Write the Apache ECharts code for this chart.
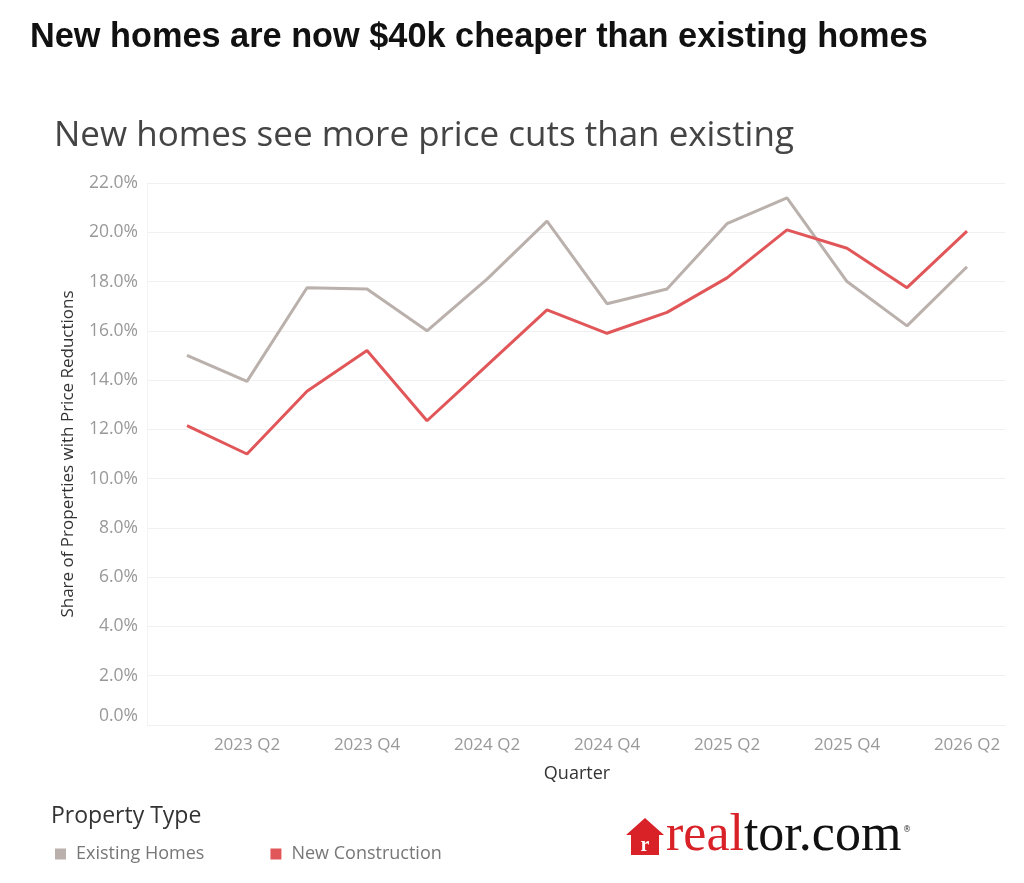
<!DOCTYPE html>
<html>
<head>
<meta charset="utf-8">
<title>New homes vs existing homes price cuts</title>
<script src="https://cdn.jsdelivr.net/npm/echarts@6/dist/echarts.min.js"></script>
<style>
  html, body { margin: 0; padding: 0; background: #fff; }
  #main { width: 1024px; height: 883px; }
</style>
</head>
<body>
<div id="main"></div>
<script>
const quarters = [
  "2023 Q1", "2023 Q2", "2023 Q3", "2023 Q4",
  "2024 Q1", "2024 Q2", "2024 Q3", "2024 Q4",
  "2025 Q1", "2025 Q2", "2025 Q3", "2025 Q4",
  "2026 Q1", "2026 Q2",
];
const existingHomes = [15.0, 13.95, 17.75, 17.7, 16.0, 18.1, 20.45, 17.1, 17.7, 20.35, 21.4, 18.0, 16.2, 18.6];
const newConstruction = [12.15, 11.0, 13.55, 15.2, 12.35, 14.6, 16.85, 15.9, 16.75, 18.15, 20.1, 19.35, 17.75, 20.05];
const yTicks = [0, 2, 4, 6, 8, 10, 12, 14, 16, 18, 20, 22];

const existingName = "Existing Homes";
const newName = "New Construction";
const grayColor = "#bab0ac";
const redColor = "#e15759";
const font = "Open Sans";

const chart = echarts.init(document.getElementById("main"));

const options = {
  animation: false,
  textStyle: { fontFamily: font },
  grid: [
    // data grid: category axis with half-step padding
    { left: 157, right: 27, top: 183, bottom: 158 },
    // background grid: gridlines and y labels across the full plot width
    { left: 147, right: 19, top: 183, bottom: 158 },
  ],
  xAxis: [
    {
      type: "category",
      gridIndex: 0,
      data: quarters,
      boundaryGap: true,
      axisLine: { show: false },
      axisTick: { show: false },
      axisLabel: {
        interval: (index) => index % 2 === 1,
        color: "#999",
        fontSize: 17,
        margin: 12,
      },
      name: "Quarter",
      nameLocation: "middle",
      nameGap: 40,
      nameTextStyle: { color: "#333", fontSize: 18 },
    },
    {
      type: "value",
      gridIndex: 1,
      min: 0,
      max: 1,
      axisLine: { show: true, lineStyle: { color: "#f0f0f0" } },
      axisTick: { show: false },
      axisLabel: { show: false },
      splitLine: { show: false },
    },
  ],
  yAxis: [
    {
      type: "value",
      gridIndex: 0,
      min: yTicks[0],
      max: yTicks[yTicks.length - 1],
      interval: 2,
      show: false,
    },
    {
      type: "value",
      gridIndex: 1,
      min: yTicks[0],
      max: yTicks[yTicks.length - 1],
      interval: 2,
      axisLine: { show: true, lineStyle: { color: "#f3f3f3" } },
      axisTick: { show: false },
      axisLabel: {
        formatter: (v) => v.toFixed(1) + "%",
        color: "#999",
        fontSize: 17.5,
        margin: 9,
        verticalAlignMinLabel: "bottom",
      },
      splitLine: { lineStyle: { color: "#f0f0f0", width: 1 } },
      name: "Share of Properties with Price Reductions",
      nameLocation: "middle",
      nameGap: 70,
      nameTextStyle: { color: "#333", fontSize: 17 },
    },
  ],
  legend: {
    data: [existingName, newName],
    left: 50,
    top: 840,
    icon: "rect",
    itemWidth: 11,
    itemHeight: 11,
    itemGap: 66,
    textStyle: { color: "#777", fontSize: 18, fontFamily: font, padding: [0, 0, 0, 5] },
  },
  series: [
    {
      name: existingName,
      type: "line",
      xAxisIndex: 0,
      yAxisIndex: 0,
      data: existingHomes,
      symbol: "none",
      color: grayColor,
      lineStyle: { width: 3, color: grayColor },
    },
    {
      name: newName,
      type: "line",
      xAxisIndex: 0,
      yAxisIndex: 0,
      data: newConstruction,
      symbol: "none",
      color: redColor,
      lineStyle: { width: 3, color: redColor },
    },
  ],
  graphic: [
    {
      type: "text",
      left: 30,
      top: 21,
      style: {
        text: "New homes are now $40k cheaper than existing homes",
        font: "bold 34.3px 'Liberation Sans', Arial, sans-serif",
        fill: "#111",
      },
    },
    {
      type: "text",
      left: 54,
      top: 119,
      style: {
        text: "New homes see more price cuts than existing",
        font: "35px 'Open Sans', sans-serif",
        fill: "#444",
      },
    },
    {
      type: "text",
      left: 51,
      top: 805,
      style: {
        text: "Property Type",
        font: "23px 'Open Sans', sans-serif",
        fill: "#333",
      },
    },
    // realtor.com logo
    {
      type: "polygon",
      shape: {
        points: [[645, 818], [664, 835], [659, 835], [659, 855], [631, 855], [631, 835], [626, 835]],
      },
      style: { fill: "#d92228" },
    },
    {
      type: "text",
      x: 645,
      y: 846,
      style: {
        text: "r",
        font: "bold 20px 'Liberation Serif', serif",
        fill: "#fff",
        align: "center",
        verticalAlign: "middle",
      },
    },
    {
      type: "text",
      x: 666,
      y: 836,
      style: {
        text: "{a|real}{b|tor.com}",
        verticalAlign: "middle",
        rich: {
          a: { font: "52px 'Liberation Serif', serif", fill: "#d92228" },
          b: { font: "52px 'Liberation Serif', serif", fill: "#111" },
        },
      },
    },
    {
      type: "text",
      x: 903,
      y: 826,
      style: { text: "®", font: "8px 'DejaVu Sans', sans-serif", fill: "#333" },
    },
  ],
};

chart.setOption(options);
</script>
</body>
</html>
